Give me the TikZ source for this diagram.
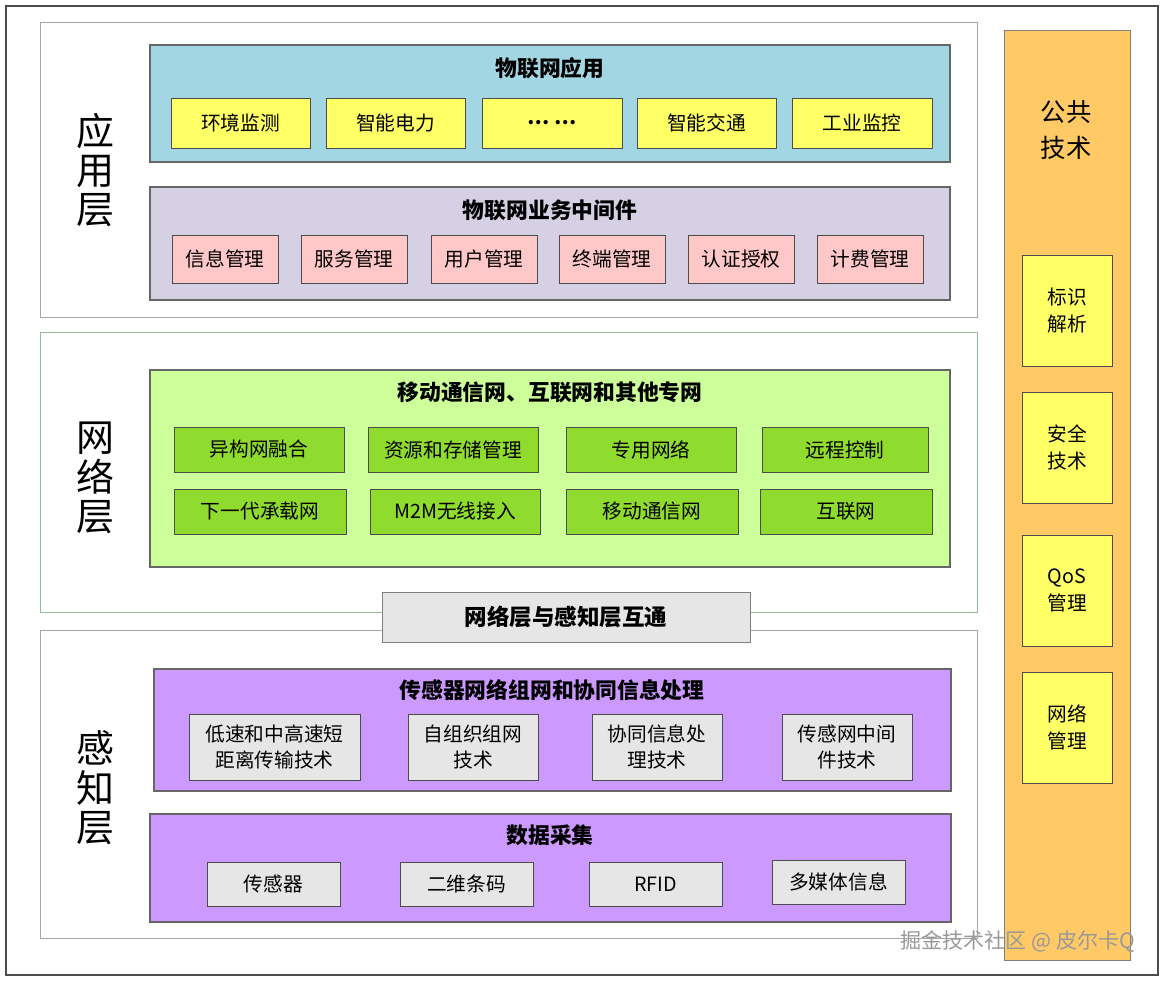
\documentclass[tikz,border=0pt]{standalone}
\usepackage{fontspec}
\setmainfont{Noto Sans CJK SC}
\newcommand\bx[7]{\pgfmathsetmacro\bw{(#4-#2)*0.025}\pgfmathsetmacro\bh{(#5-#3)*0.025}%
\node[#6,minimum width=\bw cm,minimum height=\bh cm,inner sep=0pt,align=center] (#1) at ({(#2+#4)/2},{(#3+#5)/2}) {#7};}
\definecolor{ablue}{HTML}{A3D6E3}
\definecolor{alav}{HTML}{D5D0E3}
\definecolor{ayel}{HTML}{FFFF66}
\definecolor{apink}{HTML}{FFC8C8}
\definecolor{ngreen}{HTML}{CCFF99}
\definecolor{ngreen2}{HTML}{8FDB2E}
\definecolor{spur}{HTML}{CC99FF}
\definecolor{sgray}{HTML}{E6E6E6}
\definecolor{orng}{HTML}{FFC966}
\begin{document}
\begin{tikzpicture}[x=0.025cm,y=-0.025cm,
 panel/.style={draw=black!35,fill=white,line width=0.6pt},
 area/.style={draw=black!60,line width=0.8pt},
 sbox/.style={draw=black!70,line width=0.6pt,font=\fontsize{14}{19}\selectfont},
 ttl/.style={font=\fontsize{15.5}{18}\selectfont\bfseries},
 layer/.style={font=\fontsize{27}{34}\selectfont,align=center}]
\useasboundingbox (0,0) rectangle (1164,981);
\bx{outer}{6}{6}{1158}{975}{draw=black!70,line width=0.8pt}{}
% application layer
\bx{app}{40}{22}{977}{317}{panel}{}
\bx{appblue}{150}{45}{950}{162}{area,fill=ablue}{}
\node[ttl] (t1) at (550,68) {物联网应用};
\bx{a1}{171}{98}{310}{148}{sbox,fill=ayel}{环境监测}
\bx{a2}{326}{98}{465}{148}{sbox,fill=ayel}{智能电力}
\bx{a3}{482}{98}{622}{148}{sbox,fill=ayel}{\textbf{… …}}
\bx{a4}{637}{98}{776}{148}{sbox,fill=ayel}{智能交通}
\bx{a5}{792}{98}{932}{148}{sbox,fill=ayel}{工业监控}
\bx{applav}{150}{187}{950}{300}{area,fill=alav}{}
\node[ttl] (t2) at (550,210) {物联网业务中间件};
\bx{m1}{172}{235}{278}{283}{sbox,fill=apink}{信息管理}
\bx{m2}{301}{235}{407}{283}{sbox,fill=apink}{服务管理}
\bx{m3}{431}{235}{537}{283}{sbox,fill=apink}{用户管理}
\bx{m4}{559}{235}{665}{283}{sbox,fill=apink}{终端管理}
\bx{m5}{688}{235}{794}{283}{sbox,fill=apink}{认证授权}
\bx{m6}{817}{235}{923}{283}{sbox,fill=apink}{计费管理}
\node[layer] (l1) at (95,170) {应\\[-6pt]用\\[-6pt]层};
% network layer
\bx{net}{40}{332}{977}{612}{panel,draw=green!30!black!40}{}
\bx{netg}{150}{370}{950}{567}{area,fill=ngreen}{}
\node[ttl] (t3) at (550,392) {移动通信网、互联网和其他专网};
\bx{n1}{174}{427}{344}{472}{sbox,fill=ngreen2}{异构网融合}
\bx{n2}{368}{427}{538}{472}{sbox,fill=ngreen2}{资源和存储管理}
\bx{n3}{566}{427}{736}{472}{sbox,fill=ngreen2}{专用网络}
\bx{n4}{762}{427}{928}{472}{sbox,fill=ngreen2}{远程控制}
\bx{n5}{174}{489}{346}{534}{sbox,fill=ngreen2}{下一代承载网}
\bx{n6}{370}{489}{540}{534}{sbox,fill=ngreen2}{M2M无线接入}
\bx{n7}{566}{489}{738}{534}{sbox,fill=ngreen2}{移动通信网}
\bx{n8}{760}{489}{932}{534}{sbox,fill=ngreen2}{互联网}
\node[layer] (l2) at (95,478) {网\\[-6pt]络\\[-6pt]层};
% sensing layer
\bx{sen}{40}{630}{977}{938}{panel}{}
\bx{inter}{382}{592}{750}{642}{draw=black!50,fill=sgray,line width=0.6pt,font=\fontsize{16}{18}\selectfont\bfseries}{网络层与感知层互通}
\bx{sp1}{154}{669}{951}{791}{area,fill=spur}{}
\node[ttl] (t4) at (552,690) {传感器网络组网和协同信息处理};
\bx{s1}{189}{714}{360}{780}{sbox,fill=sgray}{低速和中高速短\\距离传输技术}
\bx{s2}{408}{714}{538}{780}{sbox,fill=sgray}{自组织组网\\技术}
\bx{s3}{592}{714}{722}{780}{sbox,fill=sgray}{协同信息处\\理技术}
\bx{s4}{782}{714}{912}{780}{sbox,fill=sgray}{传感网中间\\件技术}
\bx{sp2}{150}{814}{951}{922}{area,fill=spur}{}
\node[ttl] (t5) at (550,835) {数据采集};
\bx{d1}{207}{862}{340}{906}{sbox,fill=sgray}{传感器}
\bx{d2}{400}{862}{533}{906}{sbox,fill=sgray}{二维条码}
\bx{d3}{589}{862}{722}{906}{sbox,fill=sgray}{RFID}
\bx{d4}{772}{860}{905}{904}{sbox,fill=sgray}{多媒体信息}
\node[layer] (l3) at (95,788) {感\\[-6pt]知\\[-6pt]层};
% right column
\bx{pub}{1004}{30}{1130}{960}{draw=black!50,fill=orng,line width=0.6pt}{}
\node[font=\fontsize{18}{26}\selectfont,align=center] (pt) at (1066,130) {公共\\技术};
\bx{r1}{1022}{255}{1112}{366}{sbox,fill=ayel}{标识\\解析}
\bx{r2}{1022}{392}{1112}{503}{sbox,fill=ayel}{安全\\技术}
\bx{r3}{1022}{535}{1112}{646}{sbox,fill=ayel}{QoS\\管理}
\bx{r4}{1022}{672}{1112}{783}{sbox,fill=ayel}{网络\\管理}
\node[font=\fontsize{15}{18}\selectfont,text=black!40,anchor=east] (wm) at (1140,941) {掘金技术社区 @ 皮尔卡Q};
\end{tikzpicture}
\end{document}
